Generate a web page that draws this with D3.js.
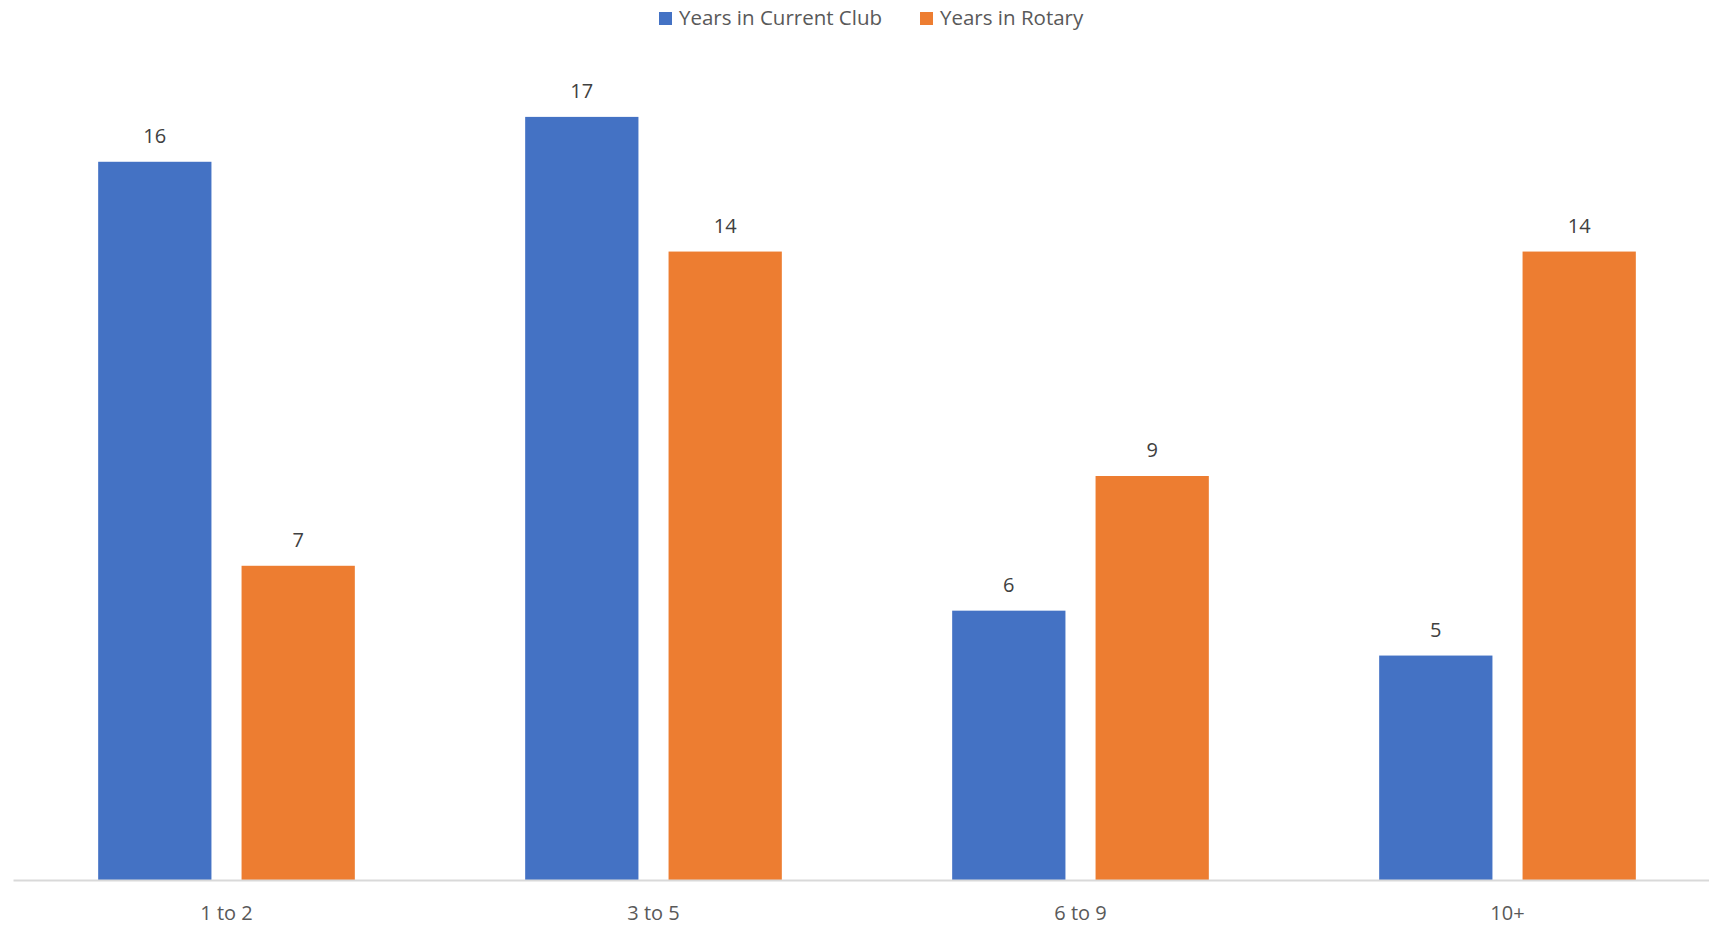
<!DOCTYPE html>
<html>
<head>
<meta charset="utf-8">
<script src="https://cdn.jsdelivr.net/npm/d3@7"></script>
<style>
  body { margin: 0; background: #fff; }
  svg { display: block; font-family: "Open Sans", "Liberation Sans", sans-serif; }
</style>
</head>
<body>
<svg id="chart" width="1709" height="926"></svg>
<script>
// 資料
var categories = ['1 to 2', '3 to 5', '6 to 9', '10+'];
var seriesNames = ['Years in Current Club', 'Years in Rotary'];
var currentClub = [16, 17, 6, 5];
var rotary = [7, 14, 9, 14];
var colors = ['#4472c4', '#ed7d31'];

var svg = d3.select('#chart');

// 畫布尺寸 & 邊距
var plotLeft = 13,
    plotRight = 1721,
    plotTop = 72,
    plotBottom = 880;

var data = categories.map(function(c, i) {
  return { cat: c, values: [currentClub[i], rotary[i]] };
});

// x 軸比例尺
var x0 = d3.scaleBand()
  .domain(categories)
  .range([plotLeft, plotRight])
  .paddingInner(0)
  .paddingOuter(0);

var x1 = d3.scaleBand()
  .domain([0, 1])
  .range([0, x0.bandwidth()])
  .paddingInner(0.21)
  .paddingOuter(0.594);

// y 軸比例尺
var yScale = d3.scaleLinear()
  .domain([0, 18])
  .range([plotBottom, plotTop]);

// 長條
var groups = svg.append('g')
  .selectAll('g')
  .data(data)
  .enter().append('g')
  .attr('transform', function(d) { return 'translate(' + x0(d.cat) + ',0)'; });

groups.selectAll('rect')
  .data(function(d) { return d.values.map(function(v, k) { return { k: k, v: v }; }); })
  .enter().append('rect')
  .attr('x', function(d) { return x1(d.k); })
  .attr('y', function(d) { return yScale(d.v); })
  .attr('width', x1.bandwidth())
  .attr('height', function(d) { return plotBottom - yScale(d.v); })
  .attr('fill', function(d) { return colors[d.k]; });

// 數值標籤
groups.selectAll('text.lbl')
  .data(function(d) { return d.values.map(function(v, k) { return { k: k, v: v }; }); })
  .enter().append('text')
  .attr('class', 'lbl')
  .attr('x', function(d) { return x1(d.k) + x1.bandwidth() / 2; })
  .attr('y', function(d) { return yScale(d.v) - 19; })
  .attr('text-anchor', 'middle')
  .attr('font-size', 20)
  .attr('fill', '#404040')
  .text(function(d) { return d.v; });

// x 軸
var xAxis = d3.axisBottom(x0).tickSize(0).tickPadding(26);
var gx = svg.append('g')
  .attr('transform', 'translate(0,' + plotBottom + ')')
  .call(xAxis);
gx.select('.domain').attr('stroke', '#d9d9d9').attr('stroke-width', 2);
gx.selectAll('.tick text')
  .attr('font-size', 20)
  .attr('font-family', '"Open Sans", "Liberation Sans", sans-serif')
  .attr('fill', '#595959');

// 圖例
var legendX = [659, 920];
var legend = svg.append('g')
  .selectAll('g')
  .data(seriesNames)
  .enter().append('g')
  .attr('transform', function(d, i) { return 'translate(' + legendX[i] + ',12)'; });

legend.append('rect')
  .attr('width', 13)
  .attr('height', 13)
  .attr('fill', function(d, i) { return colors[i]; });

legend.append('text')
  .attr('x', 20)
  .attr('y', 13)
  .attr('font-size', 20.5)
  .attr('fill', '#595959')
  .text(function(d) { return d; });
</script>
</body>
</html>
